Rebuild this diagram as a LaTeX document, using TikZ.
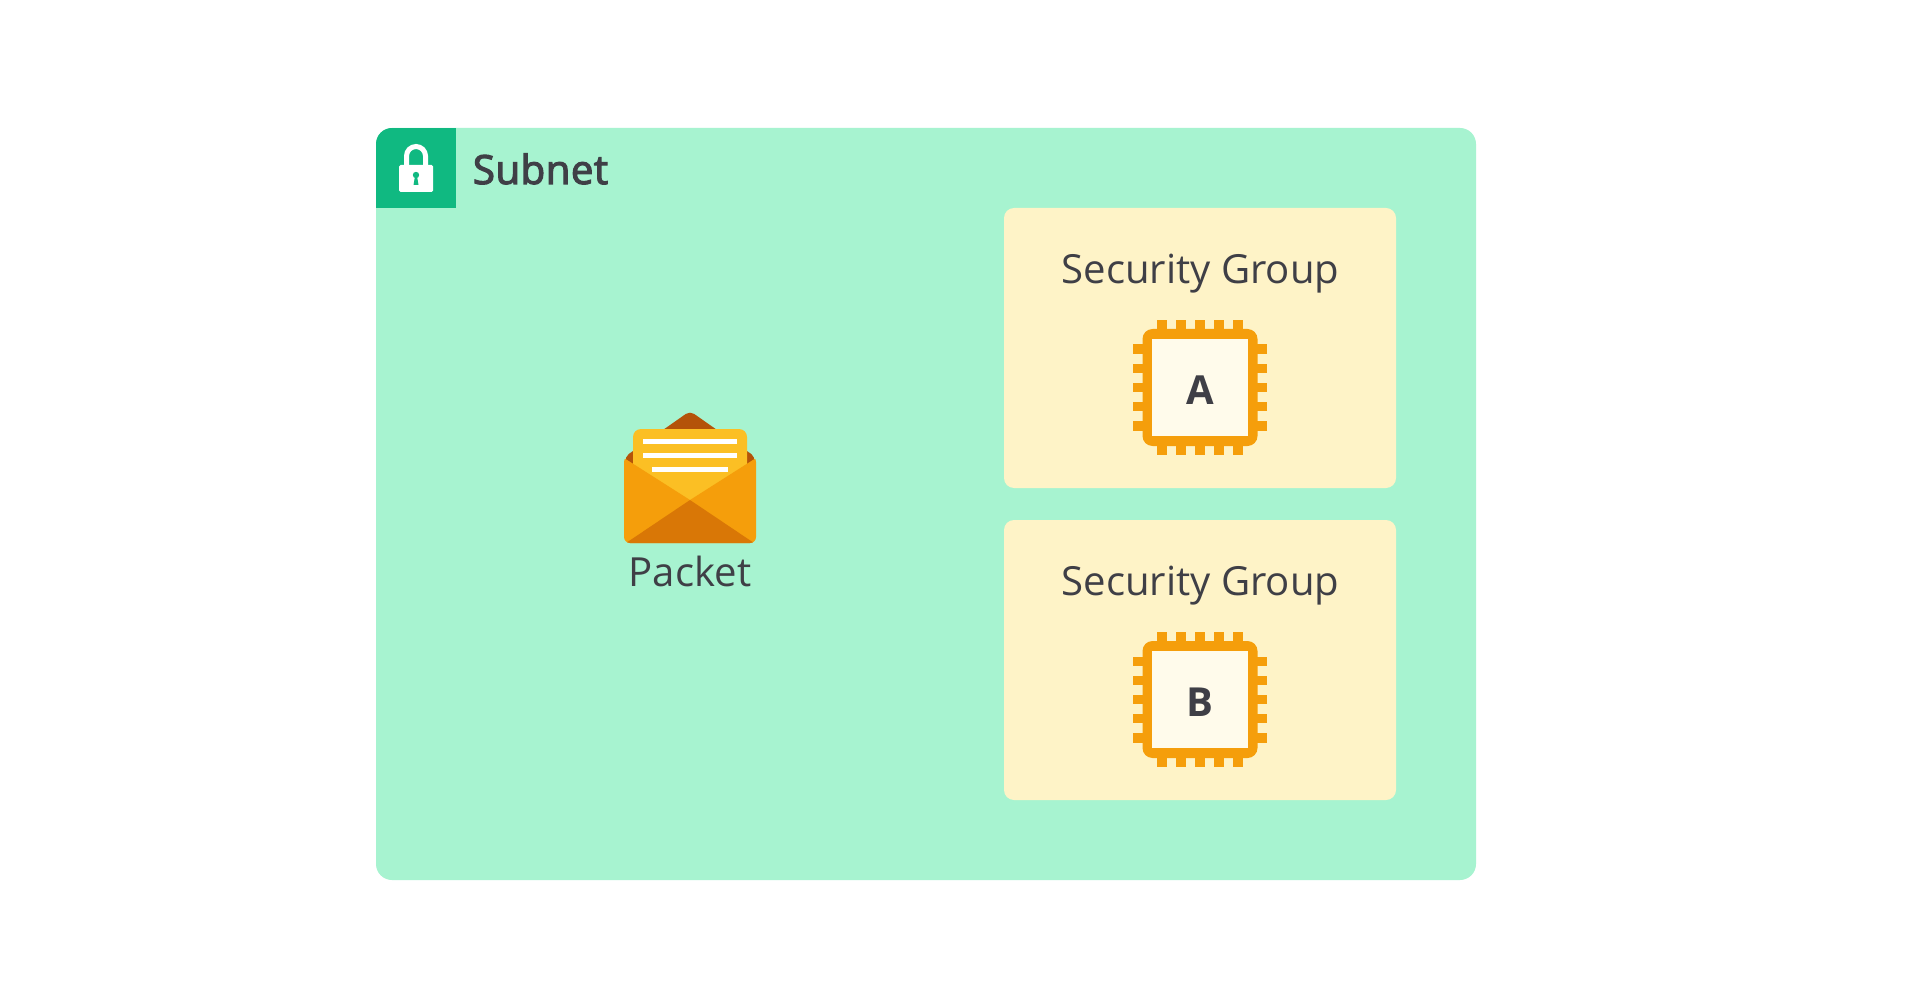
\documentclass[tikz,border=0pt]{standalone}
\usepackage{fontspec}
\setmainfont{Open Sans}
\newfontfamily\semifont{Open Sans}
\definecolor{subnetfill}{HTML}{A7F3D0}
\definecolor{subnethead}{HTML}{10B981}
\definecolor{sgfill}{HTML}{FEF3C7}
\definecolor{chipin}{HTML}{FFFBEB}
\definecolor{orangeA}{HTML}{F59E0B}
\definecolor{orangeB}{HTML}{D97706}
\definecolor{orangeC}{HTML}{B45309}
\definecolor{letterfill}{HTML}{FBBF24}
\definecolor{ink}{HTML}{3F3F46}
\tikzset{
  x=1pt,y=-1pt,
  label40/.style={inner sep=0pt,anchor=base,text=ink,font=\fontsize{40.1}{48}\selectfont},
  labelsemi/.style={label40,font=\fontsize{40.2}{48}\semifont},
  labelbold/.style={label40,font=\fontsize{40}{48}\selectfont\bfseries},
  sgbox/.style={fill=sgfill,rounded corners=10pt},
  chippic/.pic={
    \foreach \d in {-38.2,-19.1,0,19.1,38.2}{
      \fill[orangeA] (\d-4.8,-67.5) rectangle (\d+4.8,67.5);
      \fill[orangeA] (-67,\d-4.8) rectangle (67,\d+4.8);
    }
    \fill[orangeA,rounded corners=10pt] (-57.5,-58.5) rectangle (57.5,58.5);
    \fill[chipin] (-48,-48.5) rectangle (48,48.5);
  }
}
\begin{document}
\begin{tikzpicture}
\useasboundingbox (0,0) rectangle (1920,1008);
\fill[white] (0,0) rectangle (1920,1008);
% subnet
\fill[subnetfill,rounded corners=16pt] (376,128) rectangle (1476,880);
\begin{scope}
  \clip[rounded corners=16pt] (376,128) rectangle (1476,880);
  \fill[subnethead] (376,128) rectangle (456,208);
\end{scope}
% lock
\draw[white,line width=5pt] (406.5,167) -- (406.5,156) arc[start angle=180,end angle=360,radius=9.5] -- (425.5,167);
\fill[white,rounded corners=1.5pt] (399,165) rectangle (433,192);
\fill[subnethead] (416,175) circle[radius=3.2];
\fill[subnethead] (415,176) -- (417,176) -- (418.5,185) -- (413.5,185) -- cycle;
\node[labelsemi] (subnet) at (540.5,184) {\special{pdf:code 2 Tr 1.2 w}\addfontfeature{LetterSpace=1.2}Subnet\special{pdf:code 0 Tr 0 w}};
% envelope
\fill[orangeC,rounded corners=5pt] (624.5,457) -- (690,411) -- (755.5,457) -- (750,475) -- (630,475) -- cycle;
\fill[letterfill,rounded corners=8pt] (633,429) rectangle (747,510);
\fill[white] (643,439) rectangle (737,443.5);
\fill[white] (643,453) rectangle (737,458);
\fill[white] (652,467) rectangle (728,472);
\begin{scope}
  \clip (620,455.5) -- (624,458) -- (690,500) -- (756,458) -- (760,455.5) -- (760,550) -- (620,550) -- cycle;
  \fill[orangeA,rounded corners=6pt] (624,456) -- (756,456) -- (756,543) -- (624,543) -- cycle;
  \begin{scope}
    \clip[rounded corners=6pt] (624,456) -- (756,456) -- (756,543) -- (624,543) -- cycle;
    \fill[orangeB] (626,543) -- (690,500) -- (754,543) -- cycle;
  \end{scope}
\end{scope}
\node[label40] (packet) at (690,586) {Packet};
% security group A
\fill[sgbox] (1004,208) rectangle (1396,488);
\node[label40] (sga) at (1200.5,284) {Security Group};
\pic at (1200,387.5) {chippic};
\node[labelbold] (a) at (1200,404) {A};
% security group B
\fill[sgbox] (1004,520) rectangle (1396,800);
\node[label40] (sgb) at (1200.5,595) {Security Group};
\pic at (1200,699.5) {chippic};
\node[labelbold] (b) at (1200,716) {B};
\end{tikzpicture}
\end{document}
